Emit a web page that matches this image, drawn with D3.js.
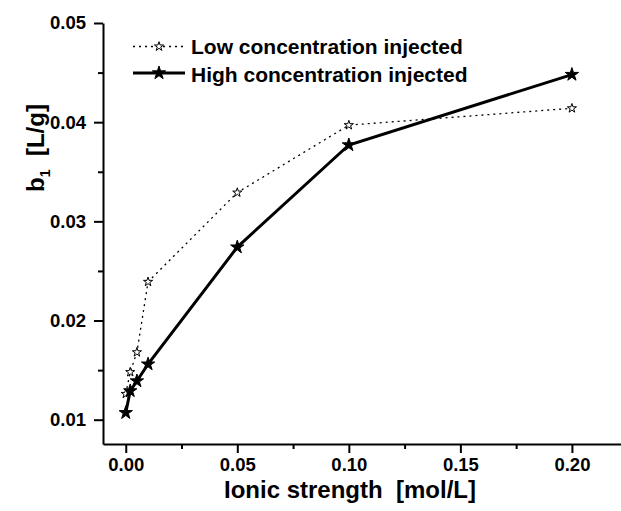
<!DOCTYPE html>
<html>
<head>
<meta charset="utf-8">
<script src="https://cdnjs.cloudflare.com/ajax/libs/d3/7.8.5/d3.min.js"></script>
<style>
  body { margin: 0; background: #fff; }
  text { font-family: "Liberation Sans", Arial, sans-serif; font-weight: bold; fill: #000; }
</style>
</head>
<body>
<div id="chart"></div>
<script>
// data
const ionic = [0, 0.002, 0.005, 0.01, 0.05, 0.10, 0.20];
const low_b1 = [0.0126, 0.0148, 0.0168, 0.0239, 0.0329, 0.0397, 0.0414];
const high_b1 = [0.0107, 0.0129, 0.0139, 0.0156, 0.0274, 0.0377, 0.0448];
const x_ticks = [0, 0.05, 0.10, 0.15, 0.20];
const y_ticks = [0.01, 0.02, 0.03, 0.04, 0.05];
const series_names = ["Low concentration injected", "High concentration injected"];

const c_width = 621;
const c_height = 511;

const svg = d3.select('#chart')
    .append('svg')
    .attr('width', c_width)
    .attr('height', c_height);

// plot range
const xScale = d3.scaleLinear().domain([-0.0102, 0.222]).range([103, 621]);
const yScale = d3.scaleLinear().domain([0.00755, 0.05]).range([444, 23]);

// minor ticks (halfway)
const x_minor = d3.range(0.025, 0.2, 0.05);
const y_minor = d3.range(0.015, 0.05, 0.01);

const xAxis = svg.append('g')
    .attr('transform', 'translate(0,' + 444 + ')')
    .call(d3.axisBottom(xScale).tickValues(x_ticks).tickSizeInner(9).tickSizeOuter(0)
        .tickPadding(5).tickFormat(d3.format('.2f')));
xAxis.selectAll('text').style('font-size', '18.5px');

const yAxis = svg.append('g')
    .attr('transform', 'translate(103,0)')
    .call(d3.axisLeft(yScale).tickValues(y_ticks).tickSizeInner(9).tickSizeOuter(0)
        .tickPadding(8).tickFormat(d3.format('.2f')));
yAxis.selectAll('text').style('font-size', '18.5px');

svg.append('g')
    .attr('transform', 'translate(0,' + 444 + ')')
    .call(d3.axisBottom(xScale).tickValues(x_minor).tickSize(5).tickFormat(''))
    .select('.domain').remove();
svg.append('g')
    .attr('transform', 'translate(103,0)')
    .call(d3.axisLeft(yScale).tickValues(y_minor).tickSize(5).tickFormat(''))
    .select('.domain').remove();

svg.selectAll('.domain, .tick line')
    .attr('stroke', '#000')
    .attr('stroke-width', 2);

// axis titles
svg.append('text')
    .attr('x', 350).attr('y', 498)
    .attr('text-anchor', 'middle')
    .style('font-size', '24px')
    .text('Ionic strength\u00a0\u00a0[mol/L]');

const ytitle = svg.append('text')
    .attr('transform', 'translate(44,148) rotate(-90)')
    .attr('text-anchor', 'middle')
    .style('font-size', '24px');
ytitle.append('tspan').text('b');
ytitle.append('tspan').attr('dy', 6).style('font-size', '14px').text('1');
ytitle.append('tspan').attr('dy', -6).text('\u00a0\u00a0[L/g]');

// lines
const line = d3.line()
    .x(function(d, i) { return xScale(ionic[i]); })
    .y(function(d) { return yScale(d); });

svg.append('path')
    .datum(low_b1)
    .attr('d', line)
    .attr('fill', 'none')
    .attr('stroke', '#000')
    .attr('stroke-width', 1.3)
    .attr('stroke-dasharray', '2,4');

svg.append('path')
    .datum(high_b1)
    .attr('d', line)
    .attr('fill', 'none')
    .attr('stroke', '#000')
    .attr('stroke-width', 3);

const lowStar = d3.symbol().type(d3.symbolStar).size(26);
const highStar = d3.symbol().type(d3.symbolStar).size(55);

svg.selectAll('.low_pt')
    .data(low_b1)
    .enter()
    .append('path')
    .attr('class', 'low_pt')
    .attr('d', lowStar)
    .attr('transform', function(d, i) { return 'translate(' + xScale(ionic[i]) + ',' + yScale(d) + ')'; })
    .attr('fill', '#fff')
    .attr('stroke', '#000')
    .attr('stroke-width', 1);

svg.selectAll('.high_pt')
    .data(high_b1)
    .enter()
    .append('path')
    .attr('class', 'high_pt')
    .attr('d', highStar)
    .attr('transform', function(d, i) { return 'translate(' + xScale(ionic[i]) + ',' + yScale(d) + ')'; })
    .attr('fill', '#000')
    .attr('stroke', '#000')
    .attr('stroke-width', 1);

// legend
const legend = svg.append('g');
legend.append('line')
    .attr('x1', 133).attr('x2', 185).attr('y1', 46.5).attr('y2', 46.5)
    .attr('stroke', '#000').attr('stroke-width', 1.3).attr('stroke-dasharray', '2,4');
legend.append('path')
    .attr('d', lowStar)
    .attr('transform', 'translate(159,46.5)')
    .attr('fill', '#fff').attr('stroke', '#000');
legend.append('text')
    .attr('x', 191).attr('y', 54)
    .style('font-size', '21px')
    .text(series_names[0]);

legend.append('line')
    .attr('x1', 133).attr('x2', 185).attr('y1', 73).attr('y2', 73)
    .attr('stroke', '#000').attr('stroke-width', 3);
legend.append('path')
    .attr('d', highStar)
    .attr('transform', 'translate(159,73)')
    .attr('fill', '#000').attr('stroke', '#000');
legend.append('text')
    .attr('x', 191).attr('y', 81.5)
    .style('font-size', '21px')
    .text(series_names[1]);
</script>
</body>
</html>
